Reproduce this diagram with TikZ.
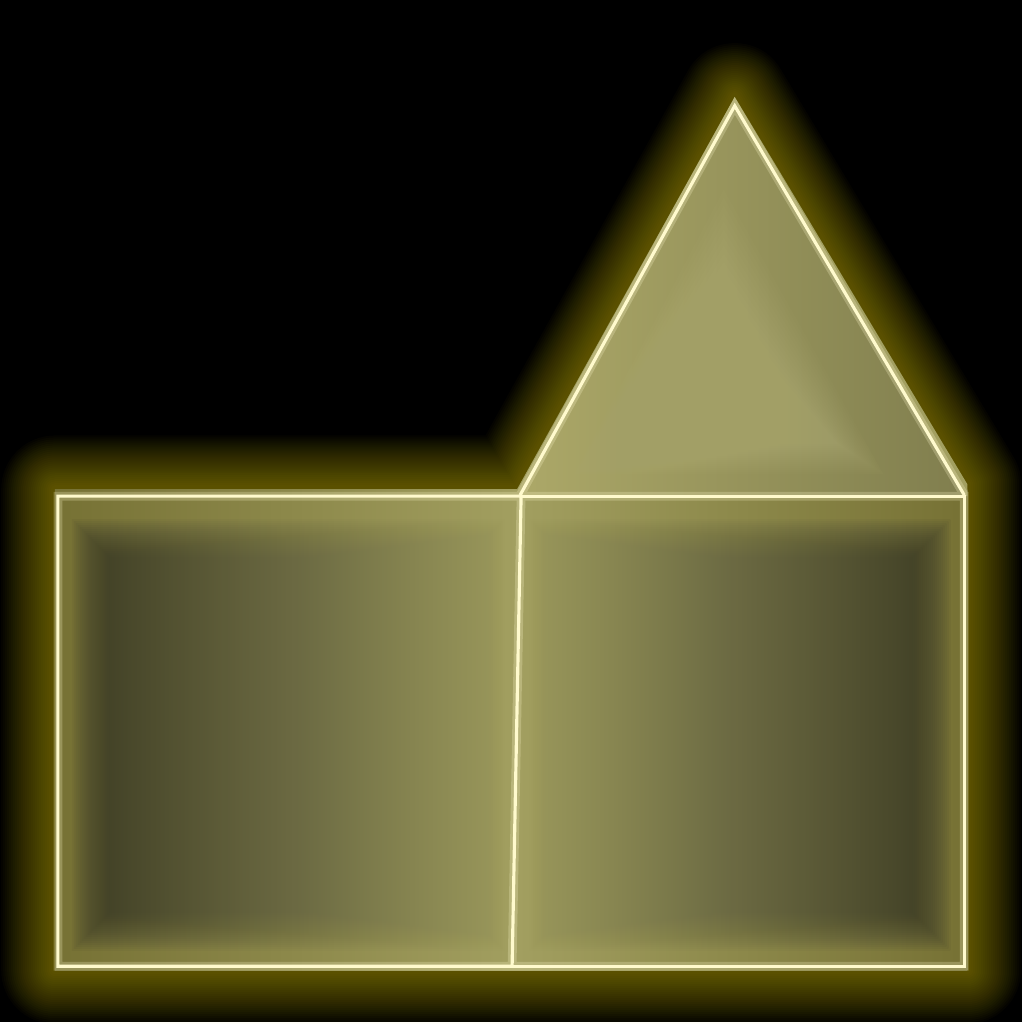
\documentclass[tikz,border=0pt]{standalone}
\usetikzlibrary{calc}
\definecolor{glow}{RGB}{215,195,12}
\definecolor{sidefill}{RGB}{118,113,52}
\definecolor{midfill}{RGB}{162,159,96}
\definecolor{deep}{RGB}{58,58,40}
\definecolor{innermid}{RGB}{150,148,90}
\definecolor{rim}{RGB}{255,250,205}
\definecolor{trileft}{RGB}{172,168,104}
\definecolor{triright}{RGB}{128,126,78}
\definecolor{trilight}{RGB}{185,182,125}
\tikzset{
  rimline/.style={draw=rim,line width=1.8pt,line join=miter},
  halo/.style={draw=rim,line width=5pt,opacity=0.25,line join=miter},
  glowline/.style={draw=glow,line join=round},
}
\begin{document}
\begin{tikzpicture}[x=0.02cm,y=-0.02cm]
\fill[black] (0,0) rectangle (1024,1024);
% outline corners
\coordinate (lt) at (58,497);
\coordinate (mt) at (522,497);
\coordinate (rt) at (966,497);
\coordinate (lb) at (58,968);
\coordinate (mb) at (513,968);
\coordinate (rb) at (966,968);
\coordinate (apex) at (736,106);
% glow round the whole shape
\foreach \i in {1,...,26}
  \draw[glowline,line width={(4+4*\i)*0.567pt},opacity=0.024]
    (55,490) -- (518,490) -- (736,97) -- (969,485) -- (969,972) -- (55,972) -- cycle;
% base fill
\shade[left color=sidefill,right color=midfill] (55,490) rectangle (518,972);
\shade[left color=midfill,right color=sidefill] (518,490) rectangle (969,972);
\fill[midfill] (518,490) -- (736,97) -- (969,485) -- (969,497) -- (518,497) -- cycle;
\shade[left color=trileft,right color=triright] (521,496) -- (736,104) -- (966,496) -- cycle;
% soft dark centres of the two boxes
\foreach \i in {0,...,19} {
  \shade[left color=deep,right color=innermid,opacity=0.08]
    ({72+2*\i},{520+2*\i}) rectangle ({505-2*\i},{952-2*\i});
  \shade[left color=innermid,right color=deep,opacity=0.08]
    ({530+2*\i},{520+2*\i}) rectangle ({952-2*\i},{952-2*\i});
}
% lighter core of the roof
\foreach \i in {0,...,15}
  \fill[trilight,opacity=0.045]
    ({575+3*\i},{475-2*\i}) -- ({725},{190+8*\i}) -- ({885-3*\i},{475-2*\i}) -- cycle;
% outlines
\draw[halo] (lt) -- (rt) -- (rb) -- (lb) -- cycle (mt) -- (mb) (521,496) -- (apex) -- (966,496);
\draw[rimline] (lt) -- (mt) -- (mb) -- (lb) -- cycle;
\draw[rimline] (mt) -- (rt) -- (rb) -- (mb);
\draw[rimline] (521,496) -- (apex) -- (966,496);
\end{tikzpicture}
\end{document}
